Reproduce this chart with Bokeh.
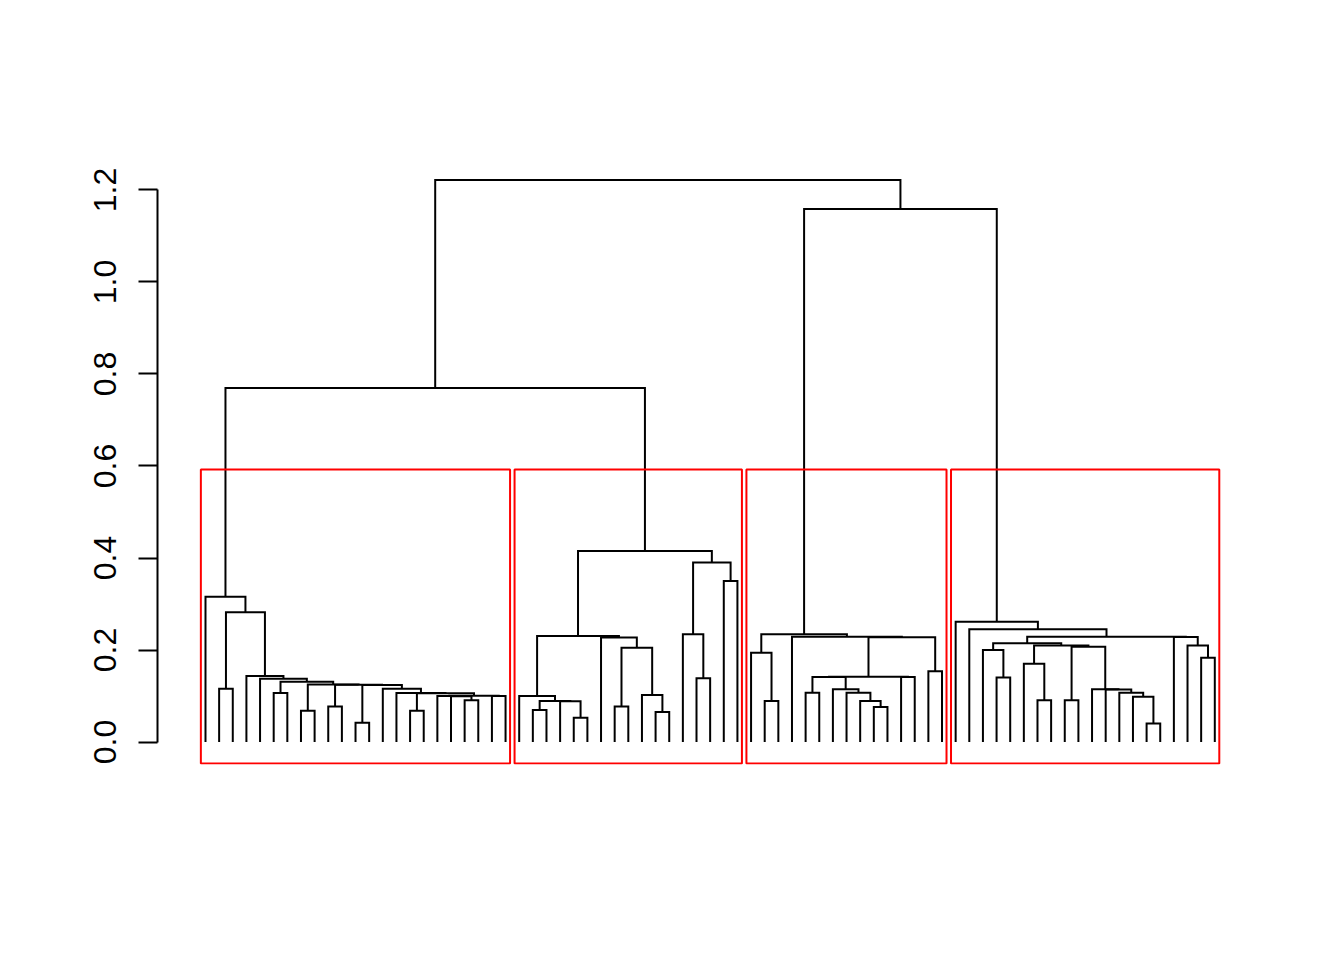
import math
from bokeh.plotting import figure
from bokeh.models import Range1d, LinearAxis, FixedTicker, PrintfTickFormatter
from bokeh.embed import file_html
from bokeh.resources import INLINE

# ---- data: hierarchical clustering merges (R hclust style) ----
# negative = leaf (display order), positive = earlier merge (1-based)
n_leaves = 75
merge_left = [-2, -6, -8, -10, -12, -16, -20, -19, -18, -22, 9, 6, -15, -14, 5, 4, 3, 2, -5, -4, 1, -1,
              -25, -28, -27, 23, -24, -31, -34, -33, 28, -30, 27, -37, -36, -39, 35, 33,
              -42, -41, -45, -50, -49, -48, -47, 41, -52, 46, -54, 48, -44, 40,
              -59, -58, -62, -61, -64, -70, -69, -68, -67, -66, 57, 56, 54, -74, -73, -72, 65, -57, -56,
              22, 52, 72]
merge_right = [-3, -7, -9, -11, -13, -17, -21, 7, 8, -23, 10, 11, 12, 13, 14, 15, 16, 17, 18, 19, 20, 21,
               -26, -29, 24, 25, 26, -32, -35, 29, 30, 31, 32, -38, 34, -40, 36, 37,
               -43, 39, -46, -51, 42, 43, 44, 45, -53, 47, -55, 49, 50, 51,
               -60, 53, -63, 55, -65, -71, 58, 59, 60, 61, 62, 63, 64, -75, 66, 67, 68, 69, 70,
               38, 71, 73]
merge_height = [0.116, 0.1065, 0.068, 0.077, 0.042, 0.068, 0.0906, 0.0995, 0.1000, 0.1000, 0.1005,
                0.1060, 0.1065, 0.116, 0.1240, 0.1245, 0.1250, 0.131, 0.1376, 0.1435, 0.282, 0.316,
                0.0696, 0.053, 0.0885, 0.089, 0.100, 0.077, 0.065, 0.102, 0.205, 0.227, 0.2304,
                0.1384, 0.234, 0.35, 0.39, 0.415,
                0.089, 0.194, 0.107, 0.076, 0.089, 0.107, 0.1145, 0.1415, 0.1415, 0.142, 0.154,
                0.228, 0.229, 0.234,
                0.140, 0.200, 0.0906, 0.170, 0.0906, 0.040, 0.0986, 0.107, 0.1140, 0.1145, 0.207,
                0.210, 0.2145, 0.183, 0.210, 0.2285, 0.229, 0.245, 0.2615,
                0.7696, 1.1587, 1.2217]
k_clusters = 4
cluster_sizes = [23, 17, 15, 20]
y_ticks = [0.0, 0.2, 0.4, 0.6, 0.8, 1.0, 1.2]

# ---- geometry from the tree ----
node_x, node_h = [], []


def child(c):
    if c < 0:
        return float(-c), 0.0
    return node_x[c - 1], node_h[c - 1]


xs, ys = [], []
for l, r, h in zip(merge_left, merge_right, merge_height):
    xl, hl = child(l)
    xr, hr = child(r)
    xs.append([xl, xl, xr, xr])
    ys.append([hl, h, h, hr])
    node_x.append((xl + xr) / 2.0)
    node_h.append(h)

max_h = max(merge_height)
y_lo = -0.04 * max_h
y_hi = max_h * 1.04
hs = sorted(merge_height, reverse=True)
rect_top = (hs[k_clusters - 2] + hs[k_clusters - 1]) / 2.0

starts = [0]
for s in cluster_sizes[:-1]:
    starts.append(starts[-1] + s)
r_left = [m + 0.66 for m in starts]
r_right = [m + s + 0.33 for m, s in zip(starts, cluster_sizes)]
r_bottom = [y_lo + 0.0022] * len(cluster_sizes)
r_top = [rect_top] * len(cluster_sizes)

p = figure(width=1344, height=960, output_backend="svg", toolbar_location=None,
           x_axis_location=None, y_axis_location=None,
           x_range=Range1d(-2.519, 78.571), y_range=Range1d(y_lo, y_hi),
           min_border_left=157, min_border_right=81, min_border_top=157, min_border_bottom=196,
           background_fill_color="white", border_fill_color="white")
p.outline_line_color = None
p.grid.visible = False

yaxis = LinearAxis(ticker=FixedTicker(ticks=y_ticks), formatter=PrintfTickFormatter(format="%.1f"),
                   bounds=(0, 1.2))
yaxis.minor_tick_line_color = None
yaxis.major_tick_in = 0
yaxis.major_tick_out = 19
yaxis.major_tick_line_width = 2
yaxis.major_tick_line_color = "black"
yaxis.axis_line_width = 2
yaxis.axis_line_color = "black"
yaxis.major_label_orientation = "parallel"
yaxis.major_label_standoff = 22
yaxis.major_label_text_font = "Liberation Sans"
yaxis.major_label_text_font_size = "32px"
yaxis.major_label_text_color = "black"
p.add_layout(yaxis, "left")

p.multi_line(xs=xs, ys=ys, line_color="black", line_width=2, line_join="miter")
p.quad(left=r_left, right=r_right, bottom=r_bottom, top=r_top,
       fill_color=None, line_color="red", line_width=2)

open("out.html", "w").write(file_html(p, INLINE))
